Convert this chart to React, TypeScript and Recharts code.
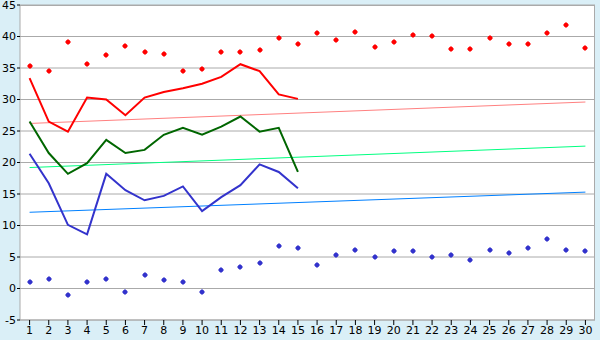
import React from 'react';
import {
    ComposedChart,
    Line,
    Scatter,
    XAxis,
    YAxis,
    CartesianGrid,
} from 'recharts';

const days = [
    1, 2, 3, 4, 5, 6, 7, 8, 9, 10,
    11, 12, 13, 14, 15, 16, 17, 18, 19, 20,
    21, 22, 23, 24, 25, 26, 27, 28, 29, 30,
];

const redLine = [33.4, 26.5, 24.9, 30.3, 30.0, 27.5, 30.3, 31.2, 31.8, 32.5, 33.6, 35.6, 34.5, 30.8, 30.1];
const greenLine = [26.5, 21.5, 18.2, 19.9, 23.6, 21.5, 22.0, 24.4, 25.5, 24.4, 25.7, 27.3, 24.9, 25.5, 18.5];
const blueLine = [21.4, 16.7, 10.1, 8.6, 18.2, 15.6, 14.0, 14.7, 16.2, 12.3, 14.5, 16.4, 19.7, 18.5, 15.9];

const redPoints = [
    35.3, 34.5, 39.1, 35.6, 37.0, 38.5, 37.5, 37.2, 34.5, 34.9,
    37.5, 37.5, 37.8, 39.7, 38.8, 40.5, 39.4, 40.7, 38.3, 39.1,
    40.2, 40.0, 38.0, 38.0, 39.7, 38.8, 38.8, 40.5, 41.8, 38.1,
];
const bluePoints = [
    1.0, 1.5, -1.1, 1.0, 1.5, -0.6, 2.1, 1.3, 1.0, -0.5,
    3.0, 3.4, 4.0, 6.7, 6.4, 3.7, 5.3, 6.1, 5.0, 5.9,
    5.9, 5.0, 5.3, 4.5, 6.1, 5.6, 6.4, 7.8, 6.1, 5.9,
];

// trend lines: start and end values only
const redTrend = [26.2, 29.6];
const greenTrend = [19.2, 22.6];
const blueTrend = [12.1, 15.3];

const yTicks = [-5, 0, 5, 10, 15, 20, 25, 30, 35, 40, 45];

const last = days.length - 1;
const chartData = days.map((d, i) => ({
    day: d,
    red: i < redLine.length ? redLine[i] : null,
    green: i < greenLine.length ? greenLine[i] : null,
    blue: i < blueLine.length ? blueLine[i] : null,
    redPt: redPoints[i],
    bluePt: bluePoints[i],
    redTr: i === 0 ? redTrend[0] : i === last ? redTrend[1] : null,
    greenTr: i === 0 ? greenTrend[0] : i === last ? greenTrend[1] : null,
    blueTr: i === 0 ? blueTrend[0] : i === last ? blueTrend[1] : null,
}));

const Marker = (color: string) => (props: any) => {
    const { cx, cy } = props;
    if (cx == null || cy == null) return <g />;
    const x = Math.round(cx);
    const y = Math.round(cy);
    return (
        <g fill={color}>
            <rect x={x - 2} y={y - 1.5} width={4} height={3} />
            <rect x={x - 1.5} y={y - 2} width={3} height={4} />
            <rect x={x - 0.5} y={y - 3} width={1} height={6} />
            <rect x={x - 3} y={y - 0.5} width={6} height={1} />
        </g>
    );
};

const tickStyle = { fill: '#000', fontSize: 11, fontFamily: 'DejaVu Sans, Verdana, sans-serif' };

export default function App() {
    return (
        <div style={{ position: 'absolute', left: 0, top: 0, width: 600, height: 340, background: '#DAEFF7' }}>
            {/* plot area box */}
            <div style={{ position: 'absolute', left: 20, top: 5, width: 575, height: 315, background: '#fff', boxSizing: 'border-box', borderTop: '1px solid #aaa', borderRight: '1px solid #aaa' }} />
            <div style={{ position: 'absolute', left: 0, top: 0 }}>
                <ComposedChart width={600} height={340} data={chartData} margin={{ top: 5, right: 5, bottom: 0, left: 0 }}>
                    <CartesianGrid vertical={false} stroke="#aaa" />
                    <XAxis
                        dataKey="day"
                        type="number"
                        domain={[0.5, 30.5]}
                        ticks={days}
                        interval={0}
                        height={20}
                        tick={tickStyle}
                        tickSize={5}
                        tickMargin={1}
                        axisLine={{ stroke: '#aaa' }}
                        tickLine={{ stroke: '#000' }}
                    />
                    <YAxis
                        width={20}
                        domain={[-5, 45]}
                        ticks={yTicks}
                        interval={0}
                        tick={tickStyle}
                        tickSize={3}
                        tickMargin={1}
                        axisLine={{ stroke: '#aaa' }}
                        tickLine={{ stroke: '#000' }}
                    />
                    <Line dataKey="redTr" stroke="#FF8080" strokeWidth={1} dot={false} connectNulls isAnimationActive={false} />
                    <Line dataKey="greenTr" stroke="#00FF80" strokeWidth={1} dot={false} connectNulls isAnimationActive={false} />
                    <Line dataKey="blueTr" stroke="#0080FF" strokeWidth={1} dot={false} connectNulls isAnimationActive={false} />
                    <Line dataKey="red" stroke="#FF0000" strokeWidth={2} dot={false} isAnimationActive={false} />
                    <Line dataKey="green" stroke="#006600" strokeWidth={2} dot={false} isAnimationActive={false} />
                    <Line dataKey="blue" stroke="#3333CC" strokeWidth={2} dot={false} isAnimationActive={false} />
                    <Scatter dataKey="redPt" fill="#FF0000" shape={Marker('#FF0000')} isAnimationActive={false} />
                    <Scatter dataKey="bluePt" fill="#3333CC" shape={Marker('#3333CC')} isAnimationActive={false} />
                </ComposedChart>
            </div>
        </div>
    );
}
